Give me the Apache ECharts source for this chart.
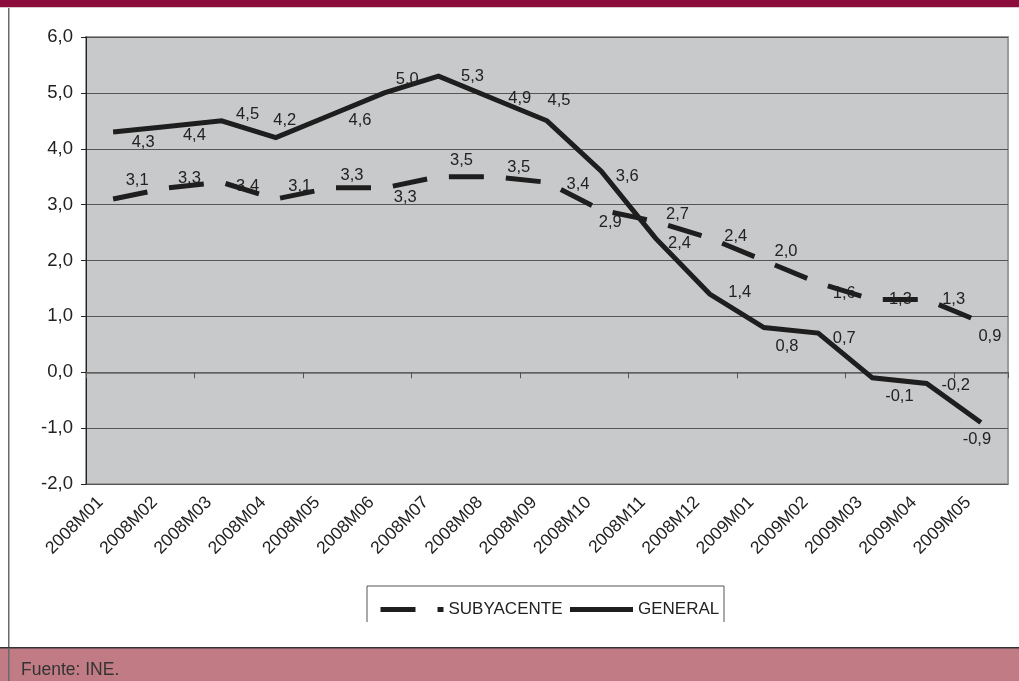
<!DOCTYPE html>
<html>
<head>
<meta charset="utf-8">
<script src="https://cdn.jsdelivr.net/npm/echarts@6/dist/echarts.min.js"></script>
<style>
  body { margin: 0; background: #fff; }
  #chart { width: 1019px; height: 681px; }
</style>
</head>
<body>
<div id="chart"></div>
<script>
// meses
const months = ['2008M01', '2008M02', '2008M03', '2008M04', '2008M05', '2008M06', '2008M07', '2008M08', '2008M09',
  '2008M10', '2008M11', '2008M12', '2009M01', '2009M02', '2009M03', '2009M04', '2009M05']
// IPC general y subyacente
const general = [4.3, 4.4, 4.5, 4.2, 4.6, 5.0, 5.3, 4.9, 4.5, 3.6, 2.4, 1.4, 0.8, 0.7, -0.1, -0.2, -0.9]
const subyacente = [3.1, 3.3, 3.4, 3.1, 3.3, 3.3, 3.5, 3.5, 3.4, 2.9, 2.7, 2.4, 2.0, 1.6, 1.3, 1.3, 0.9]
const yTicks = [-2, -1, 0, 1, 2, 3, 4, 5, 6]

// desplazamiento de las etiquetas respecto al punto
const generalLabelOffset = [[30, 10], [27, 9], [26, -6], [9, -17], [30, 5], [23, -13], [34, 0], [27, 0], [12, -20],
  [26, 5], [24, 5], [30, -2], [23, 19], [26, 5], [27, 19], [29, 2], [-4, 17]]
const subyacenteLabelOffset = [[24, -19], [22, -9], [26, 4], [24, -13], [22, -12], [21, 10], [23, -16], [26, -9], [31, 2],
  [9, 12], [22, -7], [26, -2], [22, -9], [26, 11], [28, 0], [27, 0], [9, 14]]

const font = 'Liberation Sans'
const fmt = v => v.toFixed(1).replace('.', ',')

const toData = (values, offsets) => values.map((v, i) => ({
  value: v,
  label: { offset: offsets[i] }
}))

const lineLabel = {
  show: true,
  position: 'inside',
  fontFamily: font,
  fontSize: 16.5,
  color: '#222',
  formatter: p => fmt(p.value)
}

const myChart = echarts.init(document.getElementById('chart'))
myChart.setOption({
  backgroundColor: '#fff',
  animation: false,
  textStyle: { fontFamily: font },
  grid: {
    left: 86,
    right: 11,
    top: 37,
    bottom: 197,
    show: true,
    backgroundColor: '#c8c9cb',
    borderColor: '#9a9a9a',
    borderWidth: 2
  },
  legend: {
    left: 373,
    top: 596,
    itemWidth: 63,
    itemHeight: 10,
    itemGap: 5,
    textStyle: { fontFamily: font, fontSize: 17, color: '#222' },
    itemStyle: { opacity: 0 },
    lineStyle: { width: 5 },
    data: ['SUBYACENTE', 'GENERAL']
  },
  xAxis: [
    {
      type: 'category',
      data: months,
      position: 'bottom',
      axisLine: { show: false, onZero: false },
      axisTick: { show: false },
      axisLabel: {
        rotate: 45,
        margin: 3,
        padding: [0, 18, 0, 0],
        fontFamily: font,
        fontSize: 17.5,
        color: '#222',
        interval: 0
      }
    },
    {
      type: 'category',
      data: months,
      position: 'bottom',
      axisLine: { show: true, onZero: true, lineStyle: { color: '#666', width: 1.5 } },
      axisTick: { show: true, length: 6, lineStyle: { color: '#555' } },
      axisLabel: { show: false }
    }
  ],
  yAxis: {
    type: 'value',
    min: yTicks[0],
    max: yTicks[yTicks.length - 1],
    interval: 1,
    axisLine: { show: true, onZero: false, lineStyle: { color: '#222', width: 1 } },
    axisTick: { show: true, length: 5, lineStyle: { color: '#222' } },
    axisLabel: {
      margin: 13,
      fontFamily: font,
      fontSize: 18.5,
      color: '#222',
      formatter: v => fmt(v)
    },
    splitLine: { lineStyle: { color: '#555', width: 1 } }
  },
  series: [
    {
      name: 'SUBYACENTE',
      type: 'line',
      data: toData(subyacente, subyacenteLabelOffset),
      symbol: 'circle',
      symbolSize: 0,
      itemStyle: { color: '#1e1e1e' },
      lineStyle: { color: '#1e1e1e', width: 5, type: [35, 22], cap: 'butt', join: 'miter' },
      label: lineLabel,
      z: 3
    },
    {
      name: 'GENERAL',
      type: 'line',
      data: toData(general, generalLabelOffset),
      symbol: 'circle',
      symbolSize: 0,
      itemStyle: { color: '#1e1e1e' },
      lineStyle: { color: '#1e1e1e', width: 5, type: 'solid', join: 'miter' },
      label: lineLabel,
      z: 4
    }
  ],
  graphic: [
    // franja superior
    { type: 'rect', left: 0, top: 0, shape: { width: 1019, height: 7 }, style: { fill: '#8c0d3c' }, z: 10 },
    { type: 'rect', left: 0, top: 7, shape: { width: 1019, height: 1 }, style: { fill: '#d9c9cf' }, z: 10 },
    // borde izquierdo
    { type: 'rect', left: 8, top: 8, shape: { width: 1.5, height: 673 }, style: { fill: '#6a6a6a' }, z: 10 },
    // caja de la leyenda
    {
      type: 'polyline',
      shape: { points: [[367, 622], [367, 586], [724, 586], [724, 622]] },
      style: { stroke: '#555', lineWidth: 1, fill: null },
      z: 10
    },
    // pie
    { type: 'rect', left: 0, top: 648, shape: { width: 1019, height: 33 }, style: { fill: '#c17b84' }, z: 10 },
    { type: 'rect', left: 0, top: 647, shape: { width: 1019, height: 1.5 }, style: { fill: '#333' }, z: 11 },
    { type: 'rect', left: 8, top: 648, shape: { width: 1.5, height: 33 }, style: { fill: '#6a6a6a' }, z: 11 },
    {
      type: 'text',
      left: 21,
      top: 661,
      style: { text: 'Fuente: INE.', font: '17.5px "Liberation Sans"', fill: '#333' },
      z: 12
    }
  ]
})
window.onresize = () => {
  myChart.resize()
}
</script>
</body>
</html>
